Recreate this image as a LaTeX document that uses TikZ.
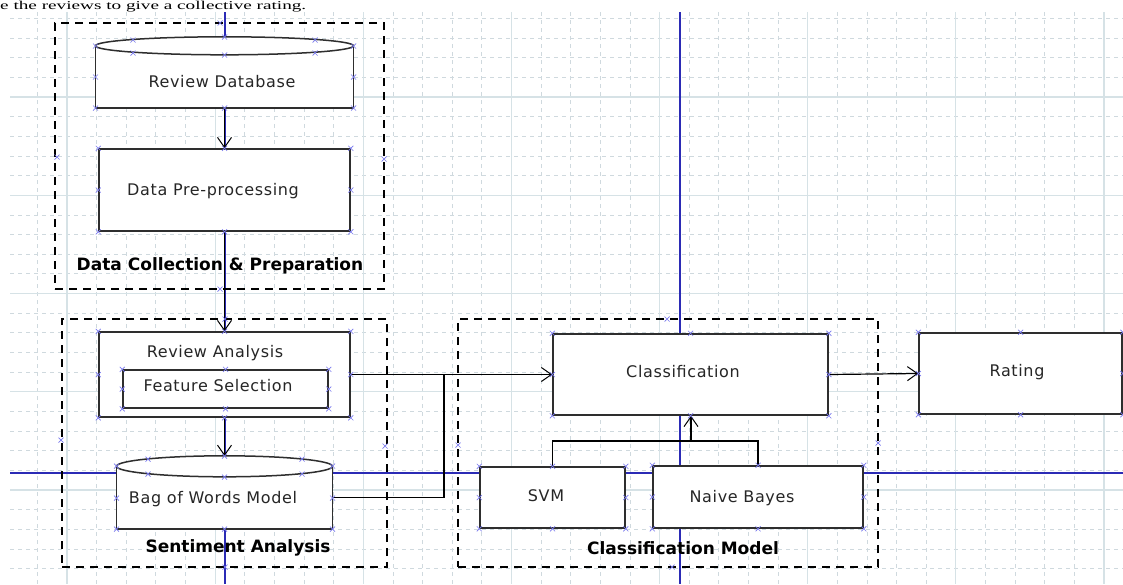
\documentclass[tikz,border=0pt]{standalone}
\usepackage{fontspec}
\setmainfont[LetterSpace=4]{DejaVu Sans}
\newfontfamily\grpfont{DejaVu Sans}
\newfontfamily\topserif{Liberation Serif}
\usetikzlibrary{arrows.meta,calc}
\definecolor{boxc}{HTML}{2E2E2E}
\definecolor{gridmin}{HTML}{CFD9DE}
\definecolor{gridmaj}{HTML}{D6E2E6}
\definecolor{axisblue}{HTML}{2B2BB5}
\definecolor{markc}{HTML}{7A7AEE}
\definecolor{txtc}{HTML}{262626}
\tikzset{
  xm/.pic={\draw[markc, line width=0.7pt] (-2.5,-2.5) -- (2.5,2.5) (-2.5,2.5) -- (2.5,-2.5);},
}
\begin{document}
\begin{tikzpicture}[x=1pt,y=-1pt,
  boxline/.style={draw=boxc, line width=1.5pt},
  box/.style={boxline, fill=white, inner sep=0pt},
  plain/.style={inner sep=0pt},
  txt/.style={inner sep=0pt, text=txtc, font=\fontsize{16}{19}\selectfont},
  grp/.style={draw=black, line width=1.3pt, dash pattern=on 8pt off 6pt, inner sep=0pt},
  grplbl/.style={inner sep=0pt, text=black, font=\grpfont\bfseries\fontsize{17}{20}\selectfont},
  conn/.style={draw=black, line width=1.2pt},
  arr/.style={conn, -{Straight Barb[length=10pt,width=14pt,line width=1pt]}},
  gminor/.style={draw=gridmin, line width=0.8pt, dash pattern=on 4pt off 4pt},
  gmajor/.style={draw=gridmaj, line width=1.1pt},
  axis/.style={draw=axisblue, line width=1.3pt},
]
\useasboundingbox (0,0) rectangle (1123,584);
\fill[white] (0,0) rectangle (1123,584);

% caption text at the top
\node[anchor=base west, inner sep=0pt, font=\topserif\fontsize{12}{14}\selectfont] (cap) at (0,9.5) {\scalebox{1.6}[1]{e the reviews to give a collective rating.}};

% grid
\begin{scope}
\clip (10,12) rectangle (1123,584);
\foreach \i in {0,...,38}{\pgfmathsetmacro\xx{7.74+\i*29.628}\draw[gminor] (\xx,12) -- (\xx,584);}
\foreach \i in {0,...,28}{\pgfmathsetmacro\yy{18.4+\i*19.65}\draw[gminor] (10,\yy) -- (1123,\yy);}
\foreach \i in {0,...,7}{\pgfmathsetmacro\xx{67+\i*148.14}\draw[gmajor] (\xx,12) -- (\xx,584);}
\foreach \i in {0,...,5}{\pgfmathsetmacro\yy{97+\i*98.25}\draw[gmajor] (10,\yy) -- (1123,\yy);}
\end{scope}

% blue guide lines
\draw[axis] (225,12) -- (225,584);
\draw[axis] (680,12) -- (680,584);
\draw[axis] (10,473) -- (1123,473);

% groups
\node[grp, minimum width=329pt, minimum height=266pt] (g1) at (219.5,156) {};
\node[grp, minimum width=325pt, minimum height=248pt] (g2) at (224.5,443) {};
\node[grp, minimum width=420pt, minimum height=248pt] (g3) at (668,443) {};

% Review Database cylinder
\node[plain, minimum width=258pt, minimum height=62pt] (rd) at (224.5,77) {};
\fill[white] (rd.north west) rectangle (rd.south east);
\draw[boxline] (rd.north west) -- (rd.south west) -- (rd.south east) -- (rd.north east);
\draw[boxline, fill=white] (rd.north) ellipse [x radius=129pt, y radius=9pt];
\node[txt] (rdt) at (222,82) {Review Database};

% Data pre-processing
\node[box, minimum width=251pt, minimum height=82pt] (dp) at (224.5,190) {};
\node[txt] (dpt) at (213,191) {Data Pre-processing};

% Review analysis + feature selection
\node[box, minimum width=251pt, minimum height=85pt] (ra) at (224.5,374.5) {};
\node[txt] (rat) at (215,353) {Review Analysis};
\node[box, minimum width=205pt, minimum height=38pt] (fs) at (225.5,389) {};
\node[txt] (fst) at (218,386) {Feature Selection};

% Bag of words cylinder
\node[plain, minimum width=216pt, minimum height=62.5pt] (bow) at (224.5,497.75) {};
\fill[white] (bow.north west) rectangle (bow.south east);
\draw[boxline] (bow.north west) -- (bow.south west) -- (bow.south east) -- (bow.north east);
\draw[boxline, fill=white] (bow.north) ellipse [x radius=108pt, y radius=10.5pt];
\node[txt] (bowt) at (213,499) {Bag of Words Model};
\coordinate (bowtop) at (224.5,456);

% Classification side
\node[box, minimum width=275pt, minimum height=81pt] (cls) at (690.5,374.5) {};
\node[txt] (clst) at (683,372) {Classification};
\node[box, minimum width=145pt, minimum height=61pt] (svm) at (552.5,497.5) {};
\node[txt] (svmt) at (546,496) {SVM};
\node[box, minimum width=210pt, minimum height=62pt] (nb) at (758,497) {};
\node[txt] (nbt) at (742,498) {Naive Bayes};
\node[box, minimum width=203pt, minimum height=81pt] (rating) at (1020.5,373.5) {};
\node[txt] (ratingt) at (1017,372) {Rating};

% group labels
\node[grplbl] (l1) at (220,266) {Data Collection \& Preparation};
\node[grplbl] (l2) at (238,548) {Sentiment Analysis};
\node[grplbl] (l3) at (683,548) {Classification Model};

% connectors
\draw[arr] (rd.south) -- (dp.north);
\draw[arr] (dp.south) -- (ra.north);
\draw[arr] (ra.south) -- (bowtop);
\draw[arr] (ra.east) -- (cls.west);
\coordinate (j) at (444,374.5);
\draw[conn] (bow.east) -| (j);
\coordinate (bus) at (691,441);
\draw[conn] (svm.north) |- (bus) -| (nb.north);
\draw[arr] (bus) -- (bus |- cls.south);
\draw[arr] (cls.east) -- (rating.west);

% connection markers
\foreach \n in {dp,ra,fs,cls,svm,nb,rating}{
  \foreach \a in {north west,north,north east,east,south east,south,south west,west}{
    \pic at (\n.\a) {xm};
  }
}
\foreach \p in {(95.5,46),(353.5,46),(224.5,37),(224.5,55),(133,40),(315,40),(133,53),(315,53),(95.5,77),(353.5,77),(95.5,108),(224.5,108),(353.5,108),
  (116.5,466),(332.5,466),(224.5,456),(224.5,477),(148,459),(302,459),(148,474),(302,474),(116.5,498),(332.5,498),(116.5,529),(224.5,529),(332.5,529),
  (220,23),(57,157),(384,159),(220,289),(61,440),(385,446),(225,319),(225,567),(667,319),(458,445),(878,443),(672,567)}{
  \pic at \p {xm};
}
\end{tikzpicture}
\end{document}
